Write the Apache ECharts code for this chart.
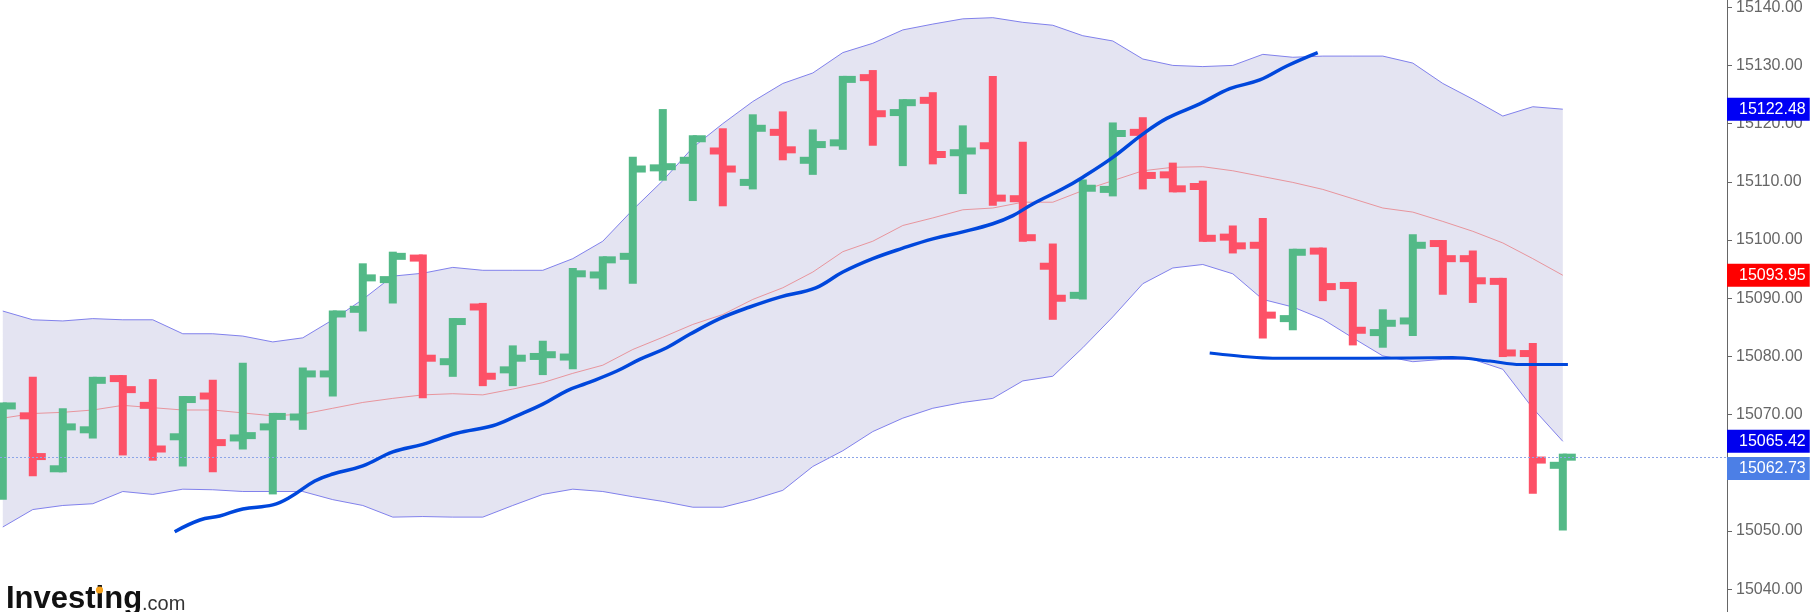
<!DOCTYPE html>
<html>
<head>
<meta charset="utf-8">
<script src="https://cdn.jsdelivr.net/npm/echarts@6/dist/echarts.min.js"></script>
<style>
html,body{margin:0;padding:0;background:#fff;}
#chart{width:1810px;height:612px;}
</style>
</head>
<body>
<div id="chart"></div>
<script>
// ---- Data ----
const opens = [
  15060.0, 15069.8, 15060.4, 15067.4, 15076.6, 15071.6, 15066.2, 15073.2, 15066.0, 15067.9,
  15069.6, 15077.0, 15088.1, 15093.2, 15097.2, 15079.1, 15088.5, 15077.7, 15080.0, 15079.9,
  15094.0, 15097.2, 15112.4, 15113.7, 15115.3, 15109.9, 15118.5, 15113.7, 15116.7, 15127.9,
  15121.9, 15124.0, 15115.0, 15116.2, 15107.1, 15095.5, 15090.5, 15108.7, 15118.5, 15111.2,
  15109.2, 15100.5, 15099.1, 15086.5, 15098.2, 15092.2, 15084.1, 15086.1, 15099.4, 15096.8,
  15093.0, 15080.5, 15061.3
];
const highs = [
  15072.1, 15076.5, 15071.1, 15076.5, 15076.8, 15076.1, 15073.2, 15076.0, 15078.9, 15070.3,
  15078.1, 15087.9, 15096.0, 15098.0, 15097.5, 15086.6, 15089.2, 15081.9, 15082.7, 15095.2,
  15097.2, 15114.3, 15122.5, 15118.0, 15119.2, 15121.6, 15122.1, 15119.0, 15128.2, 15129.2,
  15124.2, 15125.4, 15119.7, 15128.2, 15116.9, 15099.4, 15110.4, 15120.2, 15121.1, 15113.3,
  15110.2, 15102.5, 15103.8, 15098.5, 15098.7, 15092.8, 15088.1, 15101.0, 15100.0, 15098.2,
  15093.5, 15082.3, 15063.3
];
const lows = [
  15055.4, 15059.4, 15060.1, 15065.9, 15063.0, 15062.1, 15061.1, 15060.1, 15064.0, 15056.3,
  15067.4, 15073.1, 15084.3, 15089.1, 15072.8, 15076.5, 15074.9, 15074.9, 15076.8, 15077.8,
  15091.5, 15092.5, 15110.2, 15106.7, 15105.8, 15108.7, 15113.7, 15111.2, 15115.5, 15116.2,
  15112.7, 15113.0, 15107.9, 15105.9, 15099.7, 15086.3, 15089.8, 15107.5, 15108.7, 15108.2,
  15099.7, 15097.7, 15083.1, 15084.5, 15089.5, 15081.9, 15081.5, 15083.5, 15090.6, 15089.2,
  15079.9, 15056.4, 15050.1
];
const closes = [
  15071.8, 15062.8, 15067.9, 15075.9, 15074.3, 15064.1, 15072.9, 15065.2, 15066.4, 15069.9,
  15077.0, 15087.8, 15093.5, 15097.2, 15079.7, 15086.3, 15076.6, 15079.7, 15080.3, 15094.2,
  15096.8, 15112.2, 15112.6, 15117.7, 15112.2, 15119.2, 15115.5, 15116.4, 15128.0, 15121.7,
  15123.8, 15114.7, 15115.3, 15107.2, 15100.4, 15090.0, 15108.9, 15118.3, 15111.1, 15108.7,
  15100.3, 15099.0, 15087.1, 15098.2, 15092.0, 15084.5, 15085.7, 15099.1, 15096.8, 15093.0,
  15080.6, 15062.2, 15062.73
];
const bbUpper = [
  15087.8, 15086.3, 15086.1, 15086.5, 15086.3, 15086.3, 15083.9, 15083.9, 15083.5, 15082.5,
  15083.2, 15086.3, 15089.8, 15093.8, 15094.3, 15095.3, 15094.8, 15094.8, 15094.8, 15096.8,
  15099.8, 15105.2, 15110.2, 15115.9, 15120.0, 15123.8, 15126.9, 15128.7, 15132.2, 15133.8,
  15136.1, 15137.1, 15138.0, 15138.2, 15137.4, 15136.9, 15135.1, 15134.2, 15131.1, 15130.0,
  15129.8, 15130.0, 15131.9, 15131.4, 15131.6, 15131.6, 15131.6, 15130.4, 15126.9, 15124.2,
  15121.3, 15122.9, 15122.48
];
const bbMiddle = [
  15069.4, 15070.2, 15070.4, 15070.8, 15071.6, 15071.2, 15070.8, 15070.8, 15070.3, 15069.8,
  15070.1, 15071.1, 15072.1, 15072.8, 15073.4, 15073.6, 15073.4, 15074.4, 15075.5, 15077.1,
  15078.5, 15081.2, 15083.3, 15085.5, 15087.2, 15089.8, 15091.8, 15094.5, 15098.0, 15099.8,
  15102.5, 15103.8, 15105.2, 15105.5, 15106.5, 15106.5, 15108.5, 15110.2, 15111.9, 15112.5,
  15112.6, 15111.9, 15110.9, 15109.9, 15108.7, 15107.1, 15105.5, 15104.8, 15103.2, 15101.5,
  15099.5, 15096.8, 15093.95
];
const bbLower = [
  15050.7, 15053.7, 15054.4, 15054.7, 15056.8, 15056.3, 15057.2, 15057.1, 15056.8, 15056.8,
  15056.8, 15055.4, 15054.4, 15052.4, 15052.5, 15052.4, 15052.4, 15054.4, 15056.3, 15057.2,
  15056.8, 15055.9, 15055.1, 15054.1, 15054.1, 15055.4, 15057.0, 15061.1, 15063.8, 15067.1,
  15069.4, 15071.1, 15072.1, 15072.8, 15075.8, 15076.6, 15081.5, 15086.8, 15092.5, 15095.2,
  15095.8, 15094.2, 15089.8, 15088.5, 15086.4, 15083.2, 15080.1, 15079.1, 15079.5, 15079.5,
  15077.8, 15071.1, 15065.42
];
// thick blue curve: [bar position, value]
const trendCurve = [
  [5.73,15049.9],[6.57,15051.9],[7.23,15052.6],[8.0,15053.8],[9.0,15054.5],[9.57,15055.8],
  [10.4,15058.6],[11.0,15059.8],[12.0,15061.2],[13.0,15063.6],[14.0,15064.9],[15.13,15066.8],
  [16.33,15068.1],[17.13,15069.8],[18.0,15071.8],[18.8,15074.1],[19.47,15075.4],[20.47,15077.5],
  [21.23,15079.5],[22.13,15081.5],[22.9,15083.8],[23.9,15086.5],[24.9,15088.5],[25.9,15090.2],
  [27.1,15091.8],[28.0,15094.5],[29.0,15096.8],[30.0,15098.6],[31.0,15100.2],[32.0,15101.4],
  [33.0,15102.8],[33.67,15104.2],[34.33,15106.2],[35.33,15108.8],[36.0,15110.8],[37.0,15114.2],
  [38.0,15118.2],[38.8,15120.9],[39.9,15123.4],[40.9,15126.0],[41.9,15127.5],[42.8,15129.9],
  [43.83,15132.2]
];
// horizontal blue support line
const supportLine = [
  [40.23,15080.6],[41.57,15079.9],[42.33,15079.7],[45.47,15079.7],[48.33,15079.8],
  [49.57,15079.2],[50.57,15078.6],[52.17,15078.6]
];
const yTickMin = 15030, yTickMax = 15150, yTickStep = 10;

// ---- Build series data ----
const n = closes.length;
const ohlc = [], lowerPts = [], upperPts = [], midPts = [];
for (let i = 0; i < n; i++) {
  ohlc.push([i, opens[i], closes[i], lows[i], highs[i]]);
  lowerPts.push([i, bbLower[i]]);
  upperPts.push([i, bbUpper[i]]);
  midPts.push([i, bbMiddle[i]]);
}
const lastClose = closes[n - 1];
const FONT = '"Liberation Sans", Arial, Helvetica, sans-serif';
const GREEN = '#53b987', RED = '#fd5167';

function badge(value, bg, valign) {
  return {
    yAxis: value,
    lineStyle: { color: 'rgba(255,255,255,0)', width: 0.01, opacity: 1 },
    label: {
      show: true, position: 'end', distance: 0, opacity: 1,
      formatter: () => value.toFixed(2),
      color: '#fff', fontSize: 16, fontFamily: FONT,
      backgroundColor: bg, padding: [3, 4, 3, 12], lineHeight: 17,
      verticalAlign: valign || 'middle', align: 'left'
    }
  };
}

const chart = echarts.init(document.getElementById('chart'), null, { renderer: 'canvas' });
chart.setOption({
  animation: false,
  backgroundColor: '#ffffff',
  grid: { left: 0, right: 83, top: -51, bottom: -35.5, containLabel: false, outerBoundsMode: 'none' },
  xAxis: { type: 'value', min: -0.093, max: 57.473, show: false },
  yAxis: {
    type: 'value', position: 'right',
    min: yTickMin, max: yTickMax, interval: yTickStep,
    axisLine: { show: true, onZero: false, lineStyle: { color: '#666', width: 1 } },
    axisTick: { show: true, length: 5, lineStyle: { color: '#666' } },
    axisLabel: { color: '#666', fontSize: 16, fontFamily: FONT, margin: 9,
      formatter: v => v.toFixed(2) },
    splitLine: { show: false }
  },
  graphic: [
    { type: 'text', left: 6, top: 584, z: 100,
      style: { text: 'Investing', font: 'bold 31px ' + FONT, fill: '#111' } },
    { type: 'text', left: 142, top: 594, z: 100,
      style: { text: '.com', font: '20px ' + FONT, fill: '#333' } },
    { type: 'circle', shape: { cx: 99.5, cy: 590, r: 3.6 }, z: 101, style: { fill: '#f7a21b' } }
  ],
  series: [
    {
      name: 'bbFill', type: 'custom', data: [[0]], z: 0, clip: false, silent: true,
      renderItem: function (params, api) {
        const pts = [];
        for (let i = 0; i < n; i++) pts.push(api.coord([i, bbUpper[i]]));
        for (let i = n - 1; i >= 0; i--) pts.push(api.coord([i, bbLower[i]]));
        return { type: 'polygon', shape: { points: pts }, style: { fill: '#e4e4f2' } };
      }
    },
    {
      name: 'bbUpper', type: 'line', data: upperPts, symbol: 'none', z: 1,
      lineStyle: { color: '#8181ec', width: 1 }
    },
    {
      name: 'bbLower', type: 'line', data: lowerPts, symbol: 'none', z: 1,
      lineStyle: { color: '#8181ec', width: 1 }
    },
    {
      name: 'bbMiddle', type: 'line', data: midPts, symbol: 'none', z: 2,
      lineStyle: { color: '#e8959d', width: 1 },
      markLine: {
        silent: true, symbol: ['none', 'none'], animation: false,
        data: [
          {
            yAxis: lastClose,
            lineStyle: { color: '#8ca5e8', width: 1, type: [2, 2] },
            label: { show: false }
          }
        ]
      }
    },
    {
      name: 'ohlc', type: 'custom', data: ohlc, z: 3, clip: false,
      encode: { x: 0, y: [1, 2, 3, 4] },
      renderItem: function (params, api) {
        const x = api.value(0), o = api.value(1), c = api.value(2), l = api.value(3), h = api.value(4);
        const pH = api.coord([x, h]), pL = api.coord([x, l]);
        const pO = api.coord([x, o]), pC = api.coord([x, c]);
        const bw = 8, tl = 9, th = 7;
        const color = c >= o ? GREEN : RED;
        const top = pH[1], bot = pL[1];
        const cy = y => Math.min(Math.max(y - th / 2, top), bot - th);
        return {
          type: 'group',
          children: [
            { type: 'rect', shape: { x: pH[0] - bw / 2, y: top, width: bw, height: bot - top }, style: { fill: color } },
            { type: 'rect', shape: { x: pO[0] - bw / 2 - tl, y: cy(pO[1]), width: tl + bw / 2, height: th }, style: { fill: color } },
            { type: 'rect', shape: { x: pC[0], y: cy(pC[1]), width: tl + bw / 2, height: th }, style: { fill: color } }
          ]
        };
      }
    },
    {
      name: 'trend', type: 'line', data: trendCurve, symbol: 'none', smooth: 0.4, z: 5,
      lineStyle: { color: '#0047dc', width: 3.5 }
    },
    {
      name: 'support', type: 'line', data: supportLine, symbol: 'none', smooth: 0.3, z: 5,
      clip: false,
      lineStyle: { color: '#0047dc', width: 3 },
      markLine: {
        silent: true, symbol: ['none', 'none'], animation: false, z: 20,
        data: [
          badge(bbUpper[n - 1], '#0000f5'),
          badge(bbMiddle[n - 1], '#ff0000'),
          badge(bbLower[n - 1], '#0000ee'),
          badge(lastClose, '#4c7fe6', 'top')
        ]
      }
    }
  ]
});
</script>
</body>
</html>
